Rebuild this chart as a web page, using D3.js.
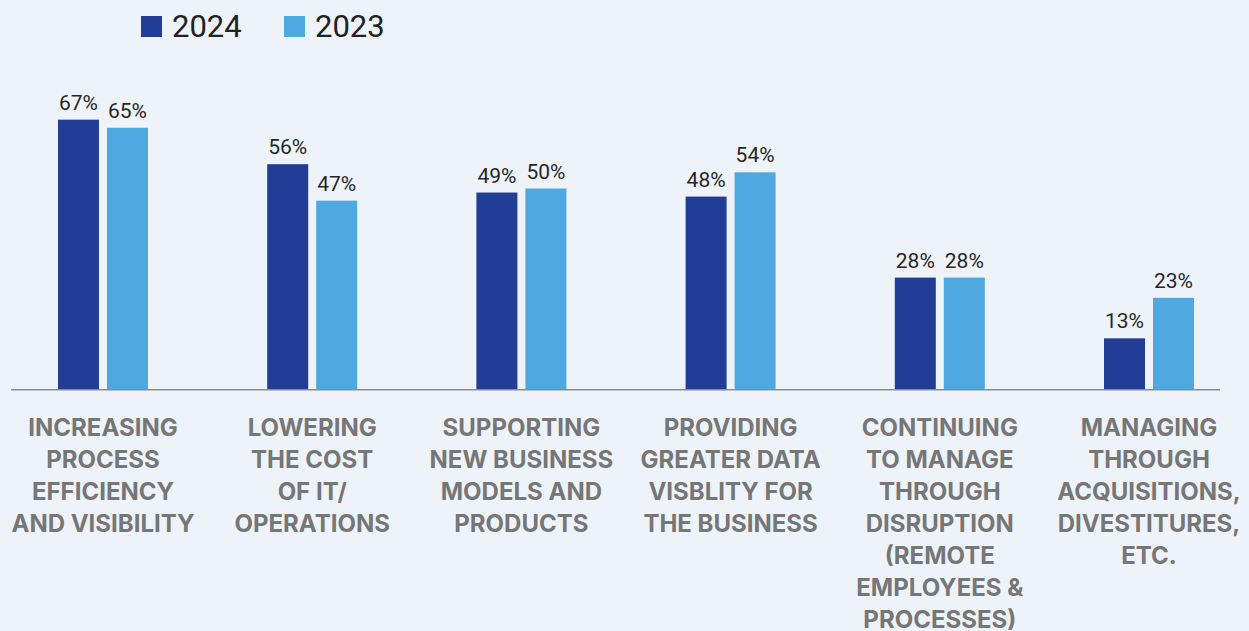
<!DOCTYPE html>
<html>
<head>
<meta charset="utf-8">
<script src="https://cdn.jsdelivr.net/npm/d3@7"></script>
<style>
  html, body { margin: 0; padding: 0; background: #eef3fa; }
  svg { display: block; }
</style>
</head>
<body>
<svg id="chart" width="1249" height="631"></svg>
<script>
// Category labels, one entry per wrapped line
const categories = [
  ["INCREASING", "PROCESS", "EFFICIENCY", "AND VISIBILITY"],
  ["LOWERING", "THE COST", "OF IT/", "OPERATIONS"],
  ["SUPPORTING", "NEW BUSINESS", "MODELS AND", "PRODUCTS"],
  ["PROVIDING", "GREATER DATA", "VISBLITY FOR", "THE BUSINESS"],
  ["CONTINUING", "TO MANAGE", "THROUGH", "DISRUPTION", "(REMOTE", "EMPLOYEES &", "PROCESSES)"],
  ["MANAGING", "THROUGH", "ACQUISITIONS,", "DIVESTITURES,", "ETC."]
];
const seriesNames = ["2024", "2023"];
const values2024 = [67, 56, 49, 48, 28, 13];
const values2023 = [65, 47, 50, 54, 28, 23];

const colors = { "2024": "#223d95", "2023": "#4ea9e0" };

const svg = d3.select("#chart");
const keys = categories.map((c, i) => "c" + i);

const x = d3.scaleBand().domain(keys).range([-1.6, 1253.6]).paddingInner(0).paddingOuter(0);
const x1 = d3.scaleBand().domain(seriesNames).range([0, 90]).paddingInner(8 / 49).paddingOuter(0);
const y = d3.scaleLinear().domain([0, 100]).range([391, 391 - 405]);
const baseY = 389.7;

const data = keys.map((k, i) => ({
  key: k,
  lines: categories[i],
  vals: [
    { s: "2024", v: values2024[i] },
    { s: "2023", v: values2023[i] }
  ]
}));

const groups = svg.selectAll("g.grp").data(data).join("g")
  .attr("class", "grp")
  .attr("transform", d => `translate(${x(d.key) + x.bandwidth() / 2 - 45},0)`);

groups.selectAll("rect").data(d => d.vals).join("rect")
  .attr("x", d => x1(d.s))
  .attr("width", x1.bandwidth())
  .attr("y", d => y(d.v))
  .attr("height", d => baseY - y(d.v))
  .attr("fill", d => colors[d.s]);

groups.selectAll("text.val").data(d => d.vals).join("text")
  .attr("class", "val")
  .attr("x", d => x1(d.s) + x1.bandwidth() / 2)
  .attr("y", d => y(d.v) - 10)
  .attr("text-anchor", "middle")
  .attr("font-family", "Roboto, sans-serif")
  .attr("font-size", 21)
  .attr("fill", "#262626")
  .text(d => d.v + "%");

// Baseline
svg.append("line")
  .attr("x1", 11).attr("x2", 1220)
  .attr("y1", baseY).attr("y2", baseY)
  .attr("stroke", "#8c8c8c")
  .attr("stroke-width", 1.6);

// Category labels
const lab = svg.selectAll("text.cat").data(data).join("text")
  .attr("class", "cat")
  .attr("text-anchor", "middle")
  .attr("font-family", "Inter, Roboto, sans-serif")
  .attr("font-weight", 700)
  .attr("font-size", 24)
  .attr("fill", "#767676");
lab.selectAll("tspan").data(d => d.lines.map(l => ({ l, cx: x(d.key) + x.bandwidth() / 2 }))).join("tspan")
  .attr("x", d => d.cx)
  .attr("y", (d, i) => 436 + i * 32)
  .text(d => d.l);

// Legend
const legend = svg.append("g");
const legX = [141, 284];
seriesNames.forEach((s, i) => {
  legend.append("rect")
    .attr("x", legX[i]).attr("y", 16)
    .attr("width", 21).attr("height", 21)
    .attr("fill", colors[s]);
  legend.append("text")
    .attr("x", legX[i] + 31).attr("y", 37)
    .attr("font-family", "Roboto, sans-serif")
    .attr("font-size", 31)
    .attr("fill", "#222")
    .text(s);
});
</script>
</body>
</html>
